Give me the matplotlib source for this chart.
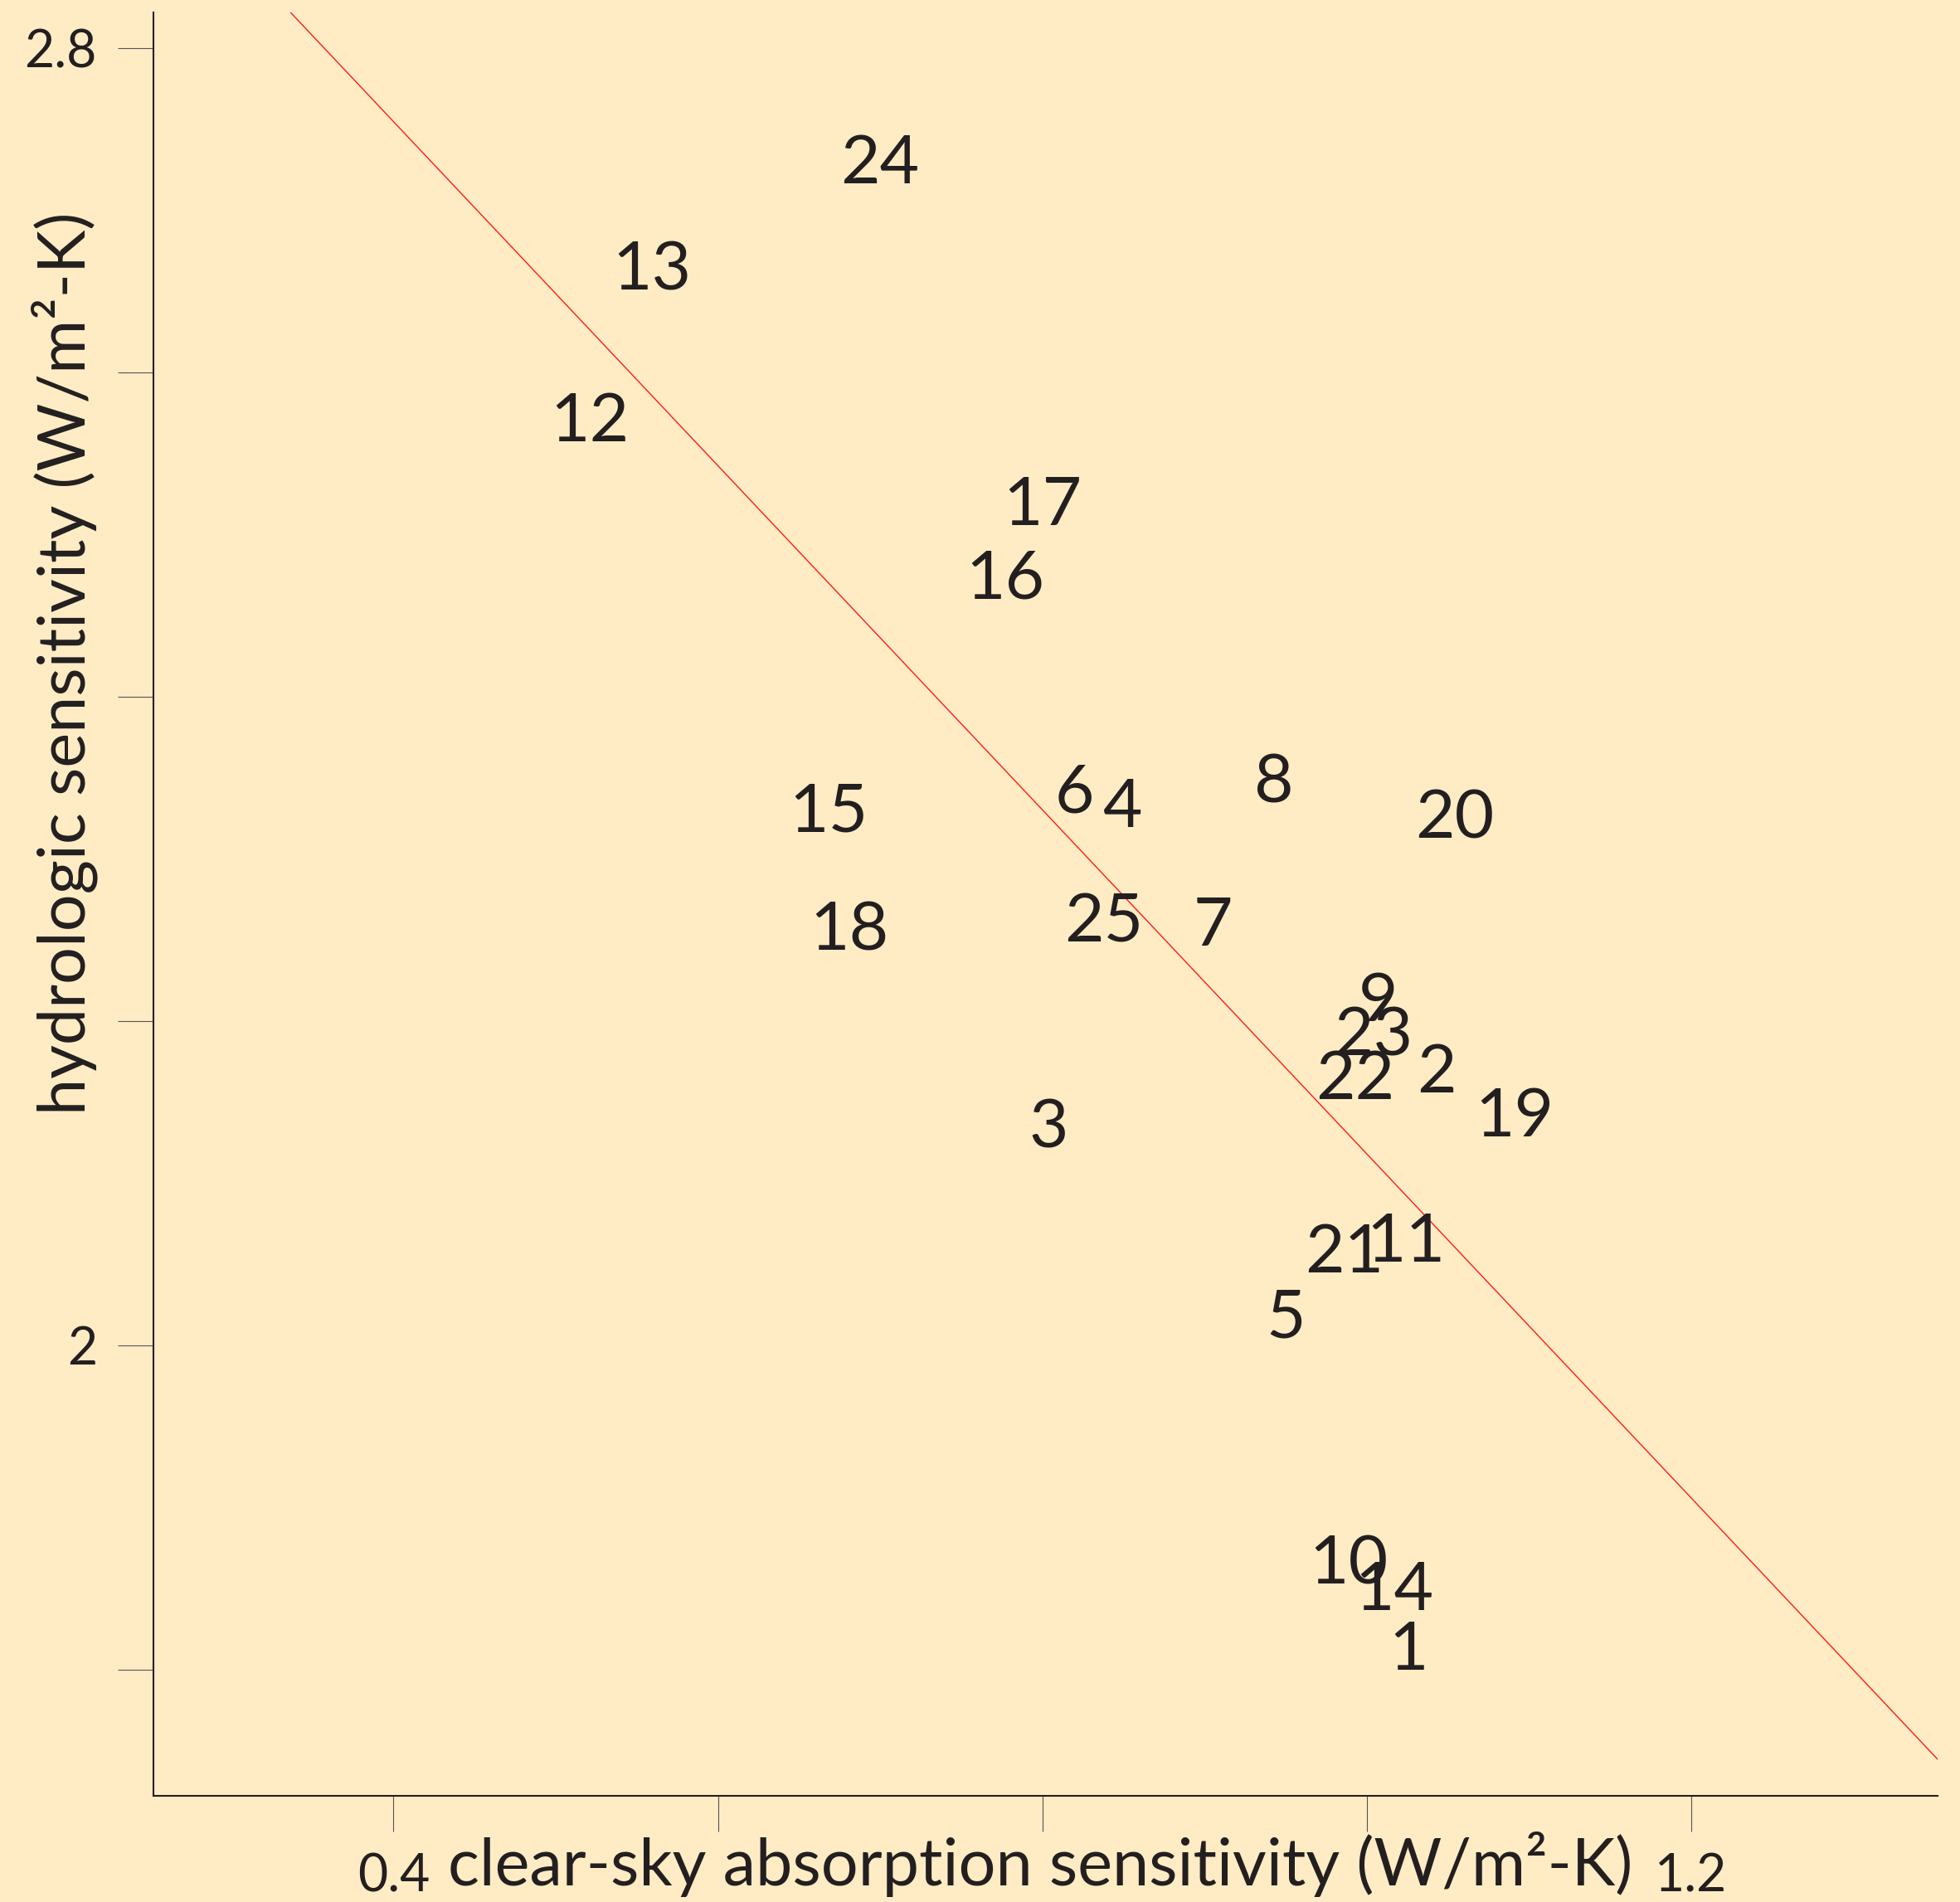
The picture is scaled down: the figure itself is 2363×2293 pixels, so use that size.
import matplotlib

matplotlib.use("Agg")
import matplotlib.pyplot as plt

################################################################################

BG = "#FFECC4"
INK = "#231F20"

# model number, clear-sky absorption sensitivity, hydrologic sensitivity
models = [str(i) for i in range(1, 26)]
x_vals = [
    1.026, 1.043, 0.804, 0.849, 0.950, 0.820, 0.905, 0.943, 1.007, 0.989,
    1.024, 0.521, 0.559, 1.017, 0.668, 0.777, 0.800, 0.681, 1.091, 1.054,
    0.986, 0.993, 1.004, 0.700, 0.838,
]
y_vals = [
    1.815, 2.171, 2.137, 2.335, 2.020, 2.344, 2.262, 2.350, 2.215, 1.868,
    2.067, 2.573, 2.666, 1.852, 2.332, 2.476, 2.521, 2.259, 2.144, 2.328,
    2.060, 2.167, 2.194, 2.732, 2.264,
]

# fitted line
FIT_INTERCEPT = 3.179
FIT_SLOPE = -1.061

x_ticks = [0.4, 0.6, 0.8, 1.0, 1.2]
x_tick_labels = ["0.4", "", "", "", "1.2"]
y_ticks = [1.8, 2.0, 2.2, 2.4, 2.6, 2.8]
y_tick_labels = ["", "2", "", "", "", "2.8"]

################################################################################

plt.rcParams["font.family"] = ["Lato", "DejaVu Sans"]

fig = plt.figure(figsize=(23.63, 22.93), dpi=100, facecolor=BG)
ax = fig.add_axes([0.0783, 0.0558, 0.9103, 0.9377], facecolor=BG)

ax.set_xlim(0.252, 1.352)
ax.set_ylim(1.722, 2.822)

for spine in ["top", "right"]:
    ax.spines[spine].set_visible(False)
for spine in ["left", "bottom"]:
    ax.spines[spine].set_color(INK)
    ax.spines[spine].set_linewidth(1.5)

ax.set_xticks(x_ticks)
ax.set_xticklabels(x_tick_labels)
ax.set_yticks(y_ticks)
ax.set_yticklabels(y_tick_labels)
ax.tick_params(
    direction="out",
    length=31,
    width=0.8,
    color="#555555",
    pad=18,
    labelsize=45,
    labelcolor=INK,
)

##
ax.axline((0, FIT_INTERCEPT), slope=FIT_SLOPE, color="#FF1A1A", lw=1.0, zorder=1)

for name, x, y in zip(models, x_vals, y_vals):
    ax.text(
        x, y, name,
        fontsize=59, color=INK,
        ha="center", va="center_baseline", zorder=2,
    )

##
ax.set_xlabel(
    "clear-sky absorption sensitivity (W/m²-K)",
    fontsize=57, color=INK, va="baseline",
)
ax.xaxis.set_label_coords(0.497, -0.0502)
ax.set_ylabel(
    "hydrologic sensitivity (W/m²-K)",
    fontsize=57, color=INK,
)
ax.yaxis.set_label_coords(-0.031, 0.635)

fig.savefig("out.png", dpi=100, facecolor=BG)
